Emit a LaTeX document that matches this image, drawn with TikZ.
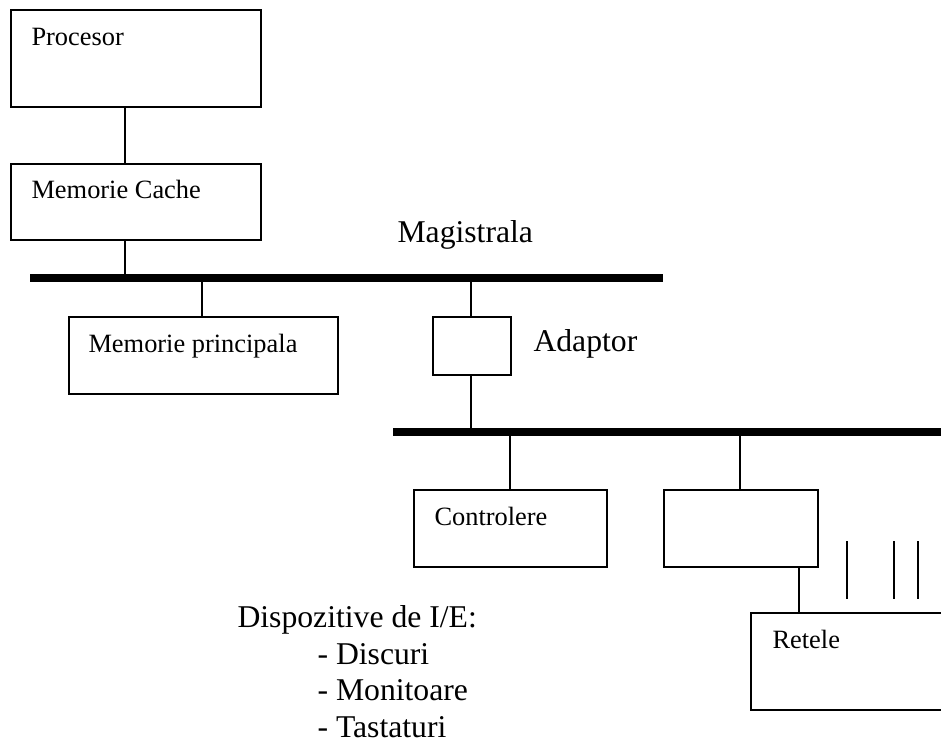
\documentclass[tikz,border=0pt]{standalone}
\usepackage{fontspec}
\setmainfont{Liberation Serif}
\usepackage{tikz}
\usetikzlibrary{
    positioning
}
\newdimen\px
\px=0.3788pt
\tikzset{
    cutie/.style={
        draw,
        rectangle,
        anchor=north west,
        inner sep=0pt,
        line width=0.75pt
    },
    mic/.style={
        anchor=base west,
        inner sep=0pt,
        font=\fontsize{10}{11.5}\selectfont
    },
    mare/.style={
        anchor=base west,
        inner sep=0pt,
        font=\fontsize{12}{13.8}\selectfont
    },
    fir/.style={
        line width=0.75pt
    },
    bus/.style={
        line width=3pt
    }
}

\begin{document}
\begin{tikzpicture}[
    x=\px,
    y=-\px
]
    \useasboundingbox (0,0) rectangle (941,742);
    \clip (0,0) rectangle (941,742);

    % Cutii
    % partea de sus: procesor si cache
    \node[cutie, minimum width=250\px, minimum height=97\px] (proc)    at (10,9)    {};
    \node[cutie, minimum width=250\px, minimum height=76\px] (cache)   at (10,163)  {};

    % sub magistrala principala
    \node[cutie, minimum width=269\px, minimum height=77\px] (memp)    at (68,316)  {};
    \node[cutie, minimum width=78\px,  minimum height=58\px] (adapt)   at (432,316) {};

    % sub magistrala de I/E
    \node[cutie, minimum width=193\px, minimum height=77\px] (ctrl)    at (413,489) {};
    \node[cutie, minimum width=154\px, minimum height=77\px] (ctrl2)   at (663,489) {};
    \node[cutie, minimum width=240\px, minimum height=97\px] (retele)  at (750,612) {};

    % Texte
    \node[mic] (tproc)   at (31,45)   {Procesor};
    \node[mic] (tcache)  at (31,198)  {Memorie Cache};
    \node[mic] (tmemp)   at (88,352)  {Memorie principala};
    \node[mic] (tctrl)   at (434,525) {Controlere};
    \node[mic] (tretele) at (772,648) {Retele};

    \node[mare] (tmag)   at (397,242) {Magistrala};
    \node[mare] (tadapt) at (533,351) {Adaptor};

    \node[mare] (disp0) at (237,627) {Dispozitive de I/E:};
    \node[mare] (disp1) at (317,664) {- Discuri};
    \node[mare] (disp2) at (317,700) {- Monitoare};
    \node[mare] (disp3) at (317,737) {- Tastaturi};

    % Magistrale
    \coordinate (busA-w) at (30,278);
    \coordinate (busA-e) at (663,278);
    \coordinate (busB-w) at (393,432);
    \coordinate (busB-e) at (945,432);

    \draw[bus] (busA-w) -- (busA-e);
    \draw[bus] (busB-w) -- (busB-e);

    % puncte de legatura pe magistrale
    \coordinate (tapCache) at (125,278);
    \coordinate (tapMemp)  at (202,278);
    \coordinate (tapAdA)   at (471,278);
    \coordinate (tapAdB)   at (471,432);
    \coordinate (tapCtrl)  at (510,432);
    \coordinate (tapCtrl2) at (740,432);
    \coordinate (tapRet)   at (799,612);

    % Legaturi
    \draw[fir] (proc.south -| tapCache) -- (cache.north -| tapCache);
    \draw[fir] (cache.south -| tapCache) -- (tapCache);
    \draw[fir] (tapMemp) -- (memp.north -| tapMemp);
    \draw[fir] (tapAdA) -- (adapt.north -| tapAdA);
    \draw[fir] (adapt.south -| tapAdB) -- (tapAdB);
    \draw[fir] (tapCtrl) -- (ctrl.north -| tapCtrl);
    \draw[fir] (tapCtrl2) -- (ctrl2.north -| tapCtrl2);
    \draw[fir] (ctrl2.south -| tapRet) -- (tapRet);

    % liniutele de langa retele
    \foreach \x in {847,894,918}
        \draw[fir] (\x,541) -- (\x,599);

\end{tikzpicture}
\end{document}
